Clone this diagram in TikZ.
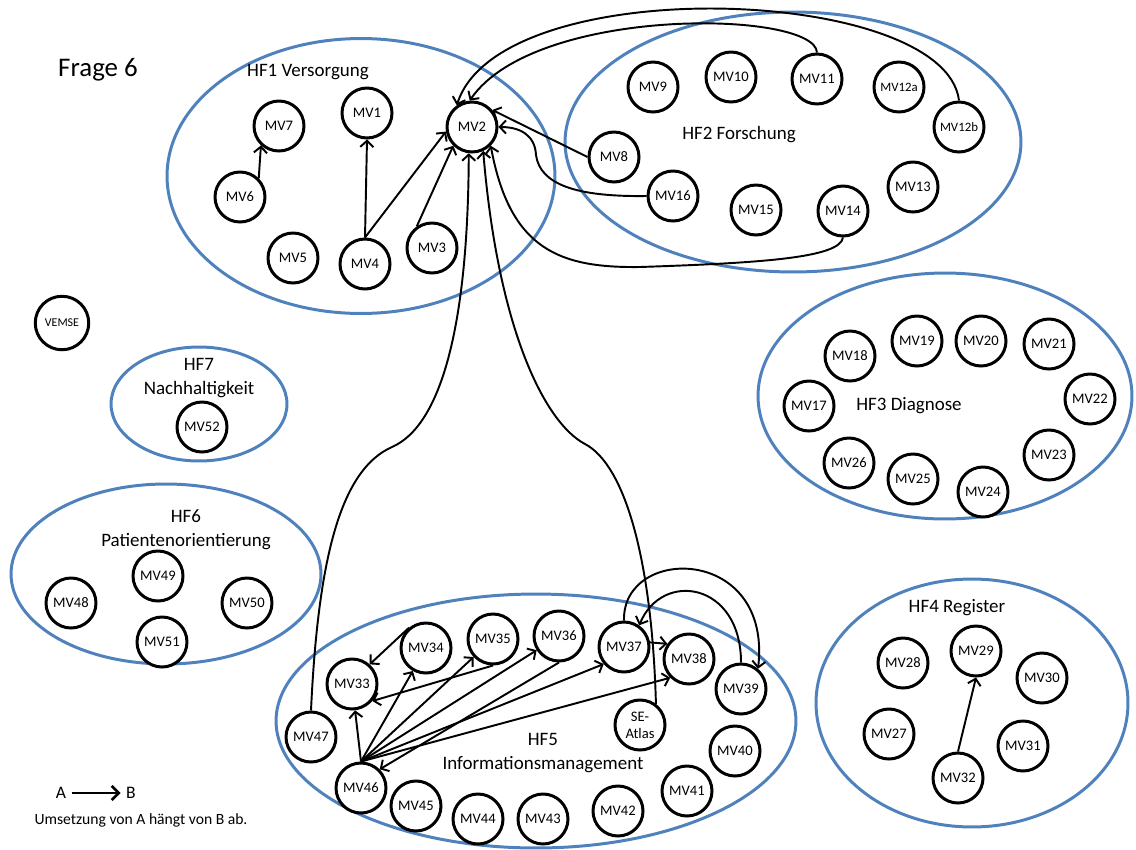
\documentclass[tikz,border=0pt]{standalone}
\usepackage{fontspec}
\setmainfont{Carlito}
\usetikzlibrary{shapes.geometric,arrows.meta}
\definecolor{grpblue}{RGB}{79,129,189}
\begin{document}
\begin{tikzpicture}[x=0.02cm,y=-0.02cm,
  mv/.style={circle,draw=black,fill=white,line width=1.7pt,minimum size=1cm,inner sep=0pt,
    font=\fontsize{8.3}{9}\selectfont},
  mvs/.style={mv,font=\fontsize{7.3}{8}\selectfont},
  grp/.style={ellipse,draw=grpblue,line width=1.7pt,inner sep=0pt},
  grplabel/.style={font=\fontsize{10.8}{13.6}\selectfont,align=center,inner sep=0pt},
  dep/.style={line width=1.1pt,-{Straight Barb[length=3.5pt,width=7.5pt]}},
]
\useasboundingbox (0,0) rectangle (1136,849);

% fields of action (HF groups)
\node[grp,minimum width=7.76cm,minimum height=5.5cm]  (hf1) at (361,176) {};
\node[grp,minimum width=9.12cm,minimum height=5.2cm]  (hf2) at (793,142) {};
\node[grp,minimum width=7.48cm,minimum height=4.92cm] (hf3) at (945,396) {};
\node[grp,minimum width=6.24cm,minimum height=4.96cm] (hf4) at (972,703) {};
\node[grp,minimum width=10.4cm,minimum height=5.08cm] (hf5) at (536,721) {};
\node[grp,minimum width=6.2cm,minimum height=3.6cm]   (hf6) at (166,574) {};
\node[grp,minimum width=3.52cm,minimum height=2.28cm] (hf7) at (199,404) {};

\node[font=\fontsize{15.3}{17}\selectfont] (title) at (98,70) {Frage 6};
\node[grplabel] (t1) at (308,72)  {HF1 Versorgung};
\node[grplabel] (t2) at (739,135) {HF2 Forschung};
\node[grplabel] (t3) at (909,406) {HF3 Diagnose};
\node[grplabel] (t4) at (957,608) {HF4 Register};
\node[grplabel] (t5) at (543,753) {HF5\\Informationsmanagement};
\node[grplabel] (t6) at (186,530) {HF6\\Patientenorientierung};
\node[grplabel] (t7) at (199,378) {HF7\\Nachhaltigkeit};

% measures
\node[mv] (mv1) at (367,113) {MV1};
\node[mv] (mv2) at (472,127) {MV2};
\node[mv] (mv3) at (432,248) {MV3};
\node[mv] (mv4) at (365,264) {MV4};
\node[mv] (mv5) at (293,258) {MV5};
\node[mv] (mv6) at (240,197) {MV6};
\node[mv] (mv7) at (279,126) {MV7};
\node[mv] (mv8) at (614,157) {MV8};
\node[mv] (mv9) at (653,87) {MV9};
\node[mv] (mv10) at (731,77) {MV10};
\node[mv] (mv11) at (817,79) {MV11};
\node[mvs] (mv12a) at (899,87) {MV12a};
\node[mvs] (mv12b) at (959,127) {MV12b};
\node[mv] (mv13) at (913,187) {MV13};
\node[mv] (mv14) at (843,211) {MV14};
\node[mv] (mv15) at (756,210) {MV15};
\node[mv] (mv16) at (673,196) {MV16};
\node[mv] (mv17) at (809,406) {MV17};
\node[mv] (mv18) at (850,356) {MV18};
\node[mv] (mv19) at (917,341) {MV19};
\node[mv] (mv20) at (981,341) {MV20};
\node[mv] (mv21) at (1049,344) {MV21};
\node[mv] (mv22) at (1090,399) {MV22};
\node[mv] (mv23) at (1049,455) {MV23};
\node[mv] (mv24) at (983,492) {MV24};
\node[mv] (mv25) at (913,479) {MV25};
\node[mv] (mv26) at (849,463) {MV26};
\node[mv] (mv27) at (889,734) {MV27};
\node[mv] (mv28) at (903,663) {MV28};
\node[mv] (mv29) at (976,651) {MV29};
\node[mv] (mv30) at (1042,678) {MV30};
\node[mv] (mv31) at (1023,746) {MV31};
\node[mv] (mv32) at (958,778) {MV32};
\node[mv] (mv33) at (352,684) {MV33};
\node[mv] (mv34) at (426,648) {MV34};
\node[mv] (mv35) at (493,639) {MV35};
\node[mv] (mv36) at (559,636) {MV36};
\node[mv] (mv37) at (624,647) {MV37};
\node[mv] (mv38) at (689,659) {MV38};
\node[mv] (mv39) at (741,689) {MV39};
\node[mv,align=center,font=\fontsize{8.3}{9.8}\selectfont] (se) at (640,725) {SE-\\Atlas};
\node[mv] (mv40) at (735,751) {MV40};
\node[mv] (mv41) at (687,791) {MV41};
\node[mv] (mv42) at (618,811) {MV42};
\node[mv] (mv43) at (543,819) {MV43};
\node[mv] (mv44) at (478,819) {MV44};
\node[mv] (mv45) at (416,806) {MV45};
\node[mv] (mv46) at (361,788) {MV46};
\node[mv] (mv47) at (311,737) {MV47};
\node[mv] (mv48) at (71,603) {MV48};
\node[mv] (mv49) at (158,576) {MV49};
\node[mv] (mv50) at (247,603) {MV50};
\node[mv] (mv51) at (162,642) {MV51};
\node[mv] (mv52) at (202,427) {MV52};
\node[mv,minimum size=1.07cm,font=\fontsize{6.8}{8}\selectfont] (vemse) at (62,323) {VEMSE};

% dependencies within HF1
\draw[dep] (mv6.45) -- (mv7.-133);
\draw[dep] (mv4.north) -- (mv1.south);
\draw[dep] (mv4.north) -- (mv2.-170);
\draw[dep] (mv3.125) -- (mv2.225);

% dependencies from HF2 on MV2
\draw[dep] (mv8.west) -- (mv2.40);
\draw[dep] (mv16.west) .. controls (575,197) and (540,184) .. (536,155)
                       .. controls (535,135) and (520,127) .. (mv2.east);
\draw[dep] (mv14.south) .. controls (840,258) and (760,263) .. (640,267)
                        .. controls (560,268) and (510,250) .. (mv2.-45);
\draw[dep] (mv11.north) .. controls (815,10) and (535,5) .. (mv2.95);
\draw[dep] (mv12b.north) .. controls (945,-15) and (500,-30) .. (mv2.125);

% dependencies from HF5 on MV2
\draw[dep] (mv47.north) .. controls (318,560) and (340,470) .. (392,447)
                        .. controls (440,426) and (468,330) .. (mv2.-97);
\draw[dep] (se.53) .. controls (652,560) and (625,465) .. (585,444)
                   .. controls (545,423) and (498,330) .. (mv2.-65);

% dependencies within HF5
\draw[dep] (mv37.north) .. controls (622,545) and (772,545) .. (mv39.50);
\draw[dep] (mv39.north) .. controls (741,582) and (662,570) .. (mv37.55);
\draw[dep] (mv37.10) -- (mv38.145);
\draw[dep] (mv46.north) -- (mv33);
\draw[dep] (mv46.north) -- (mv34);
\draw[dep] (mv46.north) -- (mv35);
\draw[dep] (mv46.north) -- (mv36);
\draw[dep] (mv46.north) -- (mv37.220);
\draw[dep] (mv46.north) -- (mv38.225);
\draw[dep] (mv36.south) -- (mv46.45);
\draw[dep] (mv35.south) -- (mv33.-40);
\draw[dep] (mv34.130) -- (mv33.48);

% dependency within HF4
\draw[dep] (mv32.north) -- (mv29.south);

% legend
\node[font=\fontsize{10}{12}\selectfont,inner sep=3pt] (la) at (61,793) {A};
\node[font=\fontsize{10}{12}\selectfont,inner sep=3pt] (lb) at (131,793) {B};
\draw[line width=1.5pt,-{Straight Barb[length=4pt,width=8pt]}] (la) -- (lb);
\node[font=\fontsize{8.9}{10}\selectfont] (legtext) at (141,820) {Umsetzung von A hängt von B ab.};
\end{tikzpicture}
\end{document}
